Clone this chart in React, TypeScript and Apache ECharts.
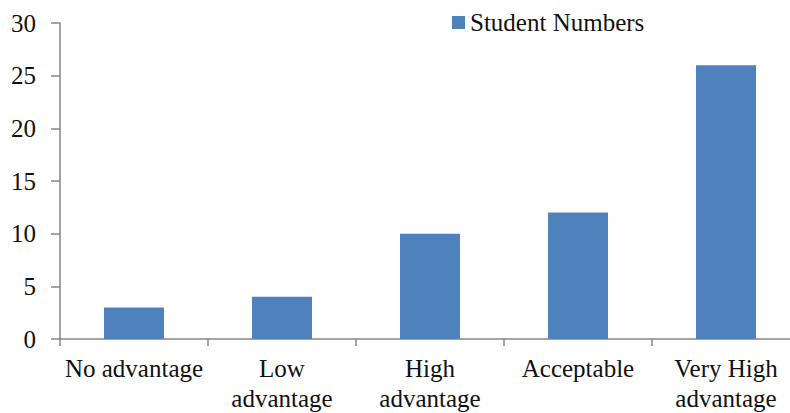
import React, { useEffect, useRef } from "react";
import * as echarts from "echarts";

const categories = ["No advantage", "Low\nadvantage", "High\nadvantage", "Acceptable", "Very High\nadvantage"];
const studentNumbers = [3, 4, 10, 12, 26];
const yTicks = { min: 0, max: 30, interval: 5 };
const seriesName = "Student Numbers";

const FONT = "'Times New Roman', 'Liberation Serif', serif";
const AXIS_COLOR = "#868686";
const BAR_COLOR = "#4F81BD";
const TEXT_COLOR = "#111111";

export default function App() {
  const ref = useRef<HTMLDivElement>(null);

  useEffect(() => {
    if (!ref.current) return;
    const chart = echarts.init(ref.current, null, { renderer: "svg" });
    const labelStyle = { fontFamily: FONT, fontSize: 25, color: TEXT_COLOR };
    chart.setOption({
      animation: false,
      backgroundColor: "#ffffff",
      textStyle: { fontFamily: FONT },
      legend: {
        show: true,
        left: 447,
        top: 5,
        icon: "rect",
        itemWidth: 13,
        itemHeight: 13,
        itemGap: 6,
        textStyle: labelStyle,
        data: [seriesName],
      },
      // the plot runs past the right edge of the visible frame
      grid: { left: 60, top: 23, right: 10, bottom: 74, containLabel: false },
      xAxis: {
        type: "category",
        data: categories,
        boundaryGap: true,
        axisLine: { lineStyle: { color: AXIS_COLOR, width: 1.5 } },
        axisTick: { show: true, length: 7, lineStyle: { color: AXIS_COLOR, width: 1.5 } },
        axisLabel: { ...labelStyle, interval: 0, margin: 14, lineHeight: 30 },
      },
      yAxis: {
        type: "value",
        min: yTicks.min,
        max: yTicks.max,
        interval: yTicks.interval,
        splitLine: { show: false },
        axisLine: { show: true, lineStyle: { color: AXIS_COLOR, width: 1.5 } },
        axisTick: { show: true, length: 9, lineStyle: { color: AXIS_COLOR, width: 1.5 } },
        axisLabel: { ...labelStyle, margin: 24 },
      },
      series: [
        {
          name: seriesName,
          type: "bar",
          data: studentNumbers,
          barWidth: 60,
          itemStyle: { color: BAR_COLOR },
        },
      ],
    });
    return () => chart.dispose();
  }, []);

  return (
    <div style={{ position: "fixed", left: 0, top: 0, width: 790, height: 413, overflow: "hidden", background: "#fff" }}>
      <div ref={ref} style={{ width: 810, height: 413 }} />
    </div>
  );
}
